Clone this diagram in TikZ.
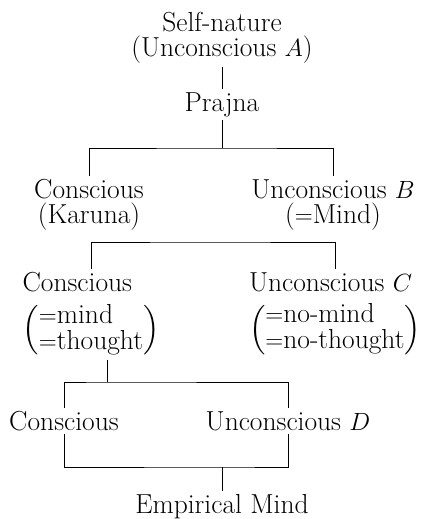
\documentclass[tikz,border=0pt]{standalone}
\usepackage{amsmath,amssymb}
\usepackage{tikz}
\usetikzlibrary{positioning}

% bloque entre parentesis con dos lineas
\newcommand{\dospar}[2]{{\renewcommand{\arraystretch}{0.94}$\left(\begin{tabular}{@{}l@{}}$=$#1\\$=$#2\end{tabular}\right)$}}

\begin{document}
\begin{tikzpicture}[x=1pt, y=-1pt, line width=0.8pt,
    txt/.style={font=\fontsize{27.5}{25}\selectfont, inner sep=3pt, anchor=north}]
    \useasboundingbox (0,0) rectangle (428,519);

    % Nodos de arriba
    \node[txt, align=center] (self) at (222, 9) {Self-nature\\(Unconscious $A$)};
    \node[txt] (prajna) at (222, 89) {Prajna};

    % Nivel B
    \node[txt, align=center] (consB) at (89, 176) {Conscious\\(Karuna)};
    \node[txt, align=center] (uncB) at (333, 176) {Unconscious $B$\\($=$Mind)};

    % Nivel C
    \node[txt, align=left] (consC) at (91, 269) {Conscious\\[11pt]\dospar{mind}{thought}};
    \node[txt, align=left] (uncC) at (335, 269) {Unconscious $C$\\[11pt]\dospar{no-mind}{no-thought}};

    % Nivel D
    \node[txt] (consD) at (64, 408) {Conscious};
    \node[txt] (uncD) at (288, 408) {Unconscious $D$};

    \node[txt] (emp) at (222, 491) {Empirical Mind};

    % Puntos de las barras
    \coordinate (bar1) at (222, 148);
    \coordinate (bar2) at (207, 242);
    \coordinate (bar3) at (107, 382);
    \coordinate (bar4) at (222, 467);

    % Aristas
    \draw (self) -- (prajna);
    \draw (prajna) -- (bar1);
    \foreach \l/\b/\r in {consB/bar1/uncB, consC/bar2/uncC, consD/bar3/uncD} {
        \draw (\l.north) |- (\b) -| (\r.north);  % barra de arriba
    }
    \draw (bar3 |- consC.south) -- (bar3);
    \draw (consD.south) |- (bar4) -| (uncD.south);  % barra de abajo
    \draw (bar4) -- (emp);

\end{tikzpicture}
\end{document}
